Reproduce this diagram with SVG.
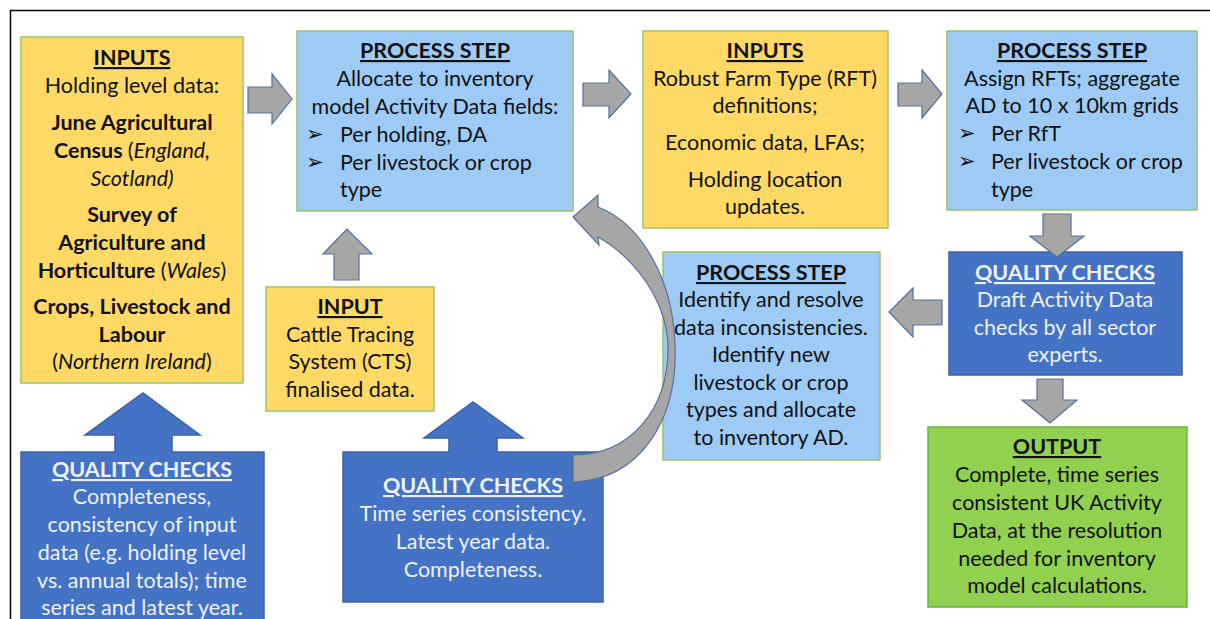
<svg xmlns="http://www.w3.org/2000/svg" width="1210" height="619" viewBox="0 0 1210 619">
<style>
text{font-family:Lato,"Open Sans","Liberation Sans",sans-serif;font-size:21.5px;fill:#111}
.c{text-anchor:middle}
.h{font-weight:bold;text-decoration:underline}
.b{font-weight:bold}
.i{font-style:italic}
.w{fill:#eef2fa}
.bul{font-family:"DejaVu Sans",sans-serif;font-size:21px}
.yel{fill:#ffd966;stroke:#9cc36a;stroke-width:1.5}
.lb{fill:#9dcbf6;stroke:#9cc36a;stroke-width:1.5}
.db{fill:#4472c4;stroke:#3a62a8;stroke-width:1.5}
.gr{fill:#92d050;stroke:#6fae3e;stroke-width:1.5}
.ar{fill:#a6a6a6;stroke:#56709a;stroke-width:1.2;stroke-linejoin:miter}
</style>
<rect width="1210" height="619" fill="#fff"/>
<path d="M10.5,619 L10.5,10.5 L1210,10.5" fill="none" stroke="#000" stroke-width="1.5"/>

<g id="inputs1">
<rect class="yel" x="21" y="37" width="222" height="346"/>
<text class="c" x="132"><tspan class="h" x="132" y="65">INPUTS</tspan><tspan x="132" y="93">Holding level data:</tspan><tspan class="b" x="132" y="130">June Agricultural</tspan><tspan x="132" y="158"><tspan class="b">Census </tspan>(<tspan class="i">England,</tspan></tspan><tspan class="i" x="132" y="186">Scotland)</tspan><tspan class="b" x="132" y="222">Survey of</tspan><tspan class="b" x="132" y="250">Agriculture and</tspan><tspan x="132" y="278"><tspan class="b">Horticulture</tspan> (<tspan class="i">Wales</tspan>)</tspan><tspan class="b" x="132" y="314">Crops, Livestock and</tspan><tspan class="b" x="132" y="342">Labour</tspan><tspan x="132" y="369">(<tspan class="i">Northern Ireland</tspan>)</tspan></text>
</g>

<g id="process1">
<rect class="lb" x="297" y="31" width="276" height="180"/>
<text class="c"><tspan class="h" x="435" y="58">PROCESS STEP</tspan><tspan x="435" y="86">Allocate to inventory</tspan><tspan x="435" y="114">model Activity Data fields:</tspan></text>
<text class="bul" x="306" y="141">➢</text><text x="340" y="142">Per holding, DA</text>
<text class="bul" x="306" y="169">➢</text><text x="340" y="170">Per livestock or crop</text>
<text x="340" y="197">type</text>
</g>

<g id="inputs2">
<rect class="yel" x="643" y="31" width="245" height="197"/>
<text class="c"><tspan class="h" x="765" y="58">INPUTS</tspan><tspan x="765" y="86">Robust Farm Type (RFT)</tspan><tspan x="765" y="113">definitions;</tspan><tspan x="765" y="150">Economic data, LFAs;</tspan><tspan x="765" y="187">Holding location</tspan><tspan x="765" y="214">updates.</tspan></text>
</g>

<g id="process2">
<rect class="lb" x="947" y="31" width="250" height="179"/>
<text class="c"><tspan class="h" x="1072" y="58">PROCESS STEP</tspan><tspan x="1072" y="86">Assign RFTs; aggregate</tspan><tspan x="1072" y="113">AD to 10 x 10km grids</tspan></text>
<text class="bul" x="958" y="140">➢</text><text x="991" y="141">Per RfT</text>
<text class="bul" x="958" y="168">➢</text><text x="991" y="169">Per livestock or crop</text>
<text x="991" y="197">type</text>
</g>

<g id="qc-sector">
<rect class="db" x="949" y="252" width="233" height="123"/>
<text class="c w"><tspan class="h w" x="1065" y="280">QUALITY CHECKS</tspan><tspan x="1065" y="307">Draft Activity Data</tspan><tspan x="1065" y="335">checks by all sector</tspan><tspan x="1065" y="362">experts.</tspan></text>
</g>

<g id="process3">
<rect class="lb" x="663" y="252" width="217" height="208"/>
<text class="c"><tspan class="h" x="771" y="280">PROCESS STEP</tspan><tspan x="771" y="307">Identify and resolve</tspan><tspan x="771" y="335">data inconsistencies.</tspan><tspan x="771" y="362">Identify new</tspan><tspan x="771" y="390">livestock or crop</tspan><tspan x="771" y="417">types and allocate</tspan><tspan x="771" y="445">to inventory AD.</tspan></text>
</g>

<g id="input-cts">
<rect class="yel" x="266" y="287" width="168" height="124"/>
<text class="c"><tspan class="h" x="350" y="314">INPUT</tspan><tspan x="350" y="342">Cattle Tracing</tspan><tspan x="350" y="369">System (CTS)</tspan><tspan x="350" y="397">finalised data.</tspan></text>
</g>

<g id="qc-inputs">
<path class="db" d="M21,452 L115,452 L115,435 L85,435 L143,393 L200,435 L172,435 L172,452 L264,452 L264,630 L21,630 Z"/>
<text class="c w"><tspan class="h w" x="142" y="477">QUALITY CHECKS</tspan><tspan x="142" y="504">Completeness,</tspan><tspan x="142" y="532">consistency of input</tspan><tspan x="142" y="560">data (e.g. holding level</tspan><tspan x="142" y="588">vs. annual totals); time</tspan><tspan x="142" y="615">series and latest year.</tspan></text>
</g>

<g id="qc-timeseries">
<path class="db" d="M343,452 L449,452 L449,438 L424,438 L473,402 L523,438 L497,438 L497,452 L603,452 L603,602 L343,602 Z"/>
<text class="c w"><tspan class="h w" x="473" y="493">QUALITY CHECKS</tspan><tspan x="473" y="521">Time series consistency.</tspan><tspan x="473" y="549">Latest year data.</tspan><tspan x="473" y="577">Completeness.</tspan></text>
</g>

<g id="output">
<rect class="gr" x="928" y="427" width="259" height="180"/>
<text class="c"><tspan class="h" x="1057" y="454">OUTPUT</tspan><tspan x="1057" y="482">Complete, time series</tspan><tspan x="1057" y="510">consistent UK Activity</tspan><tspan x="1057" y="538">Data, at the resolution</tspan><tspan x="1057" y="566">needed for inventory</tspan><tspan x="1057" y="593">model calculations.</tspan></text>
</g>

<g id="connectors">
<path class="ar" d="M248,87 L272,87 L272,74 L292,99 L272,124 L272,113 L248,113 Z"/>
<path class="ar" d="M583,83 L609,83 L609,70 L631,94 L609,118 L609,106 L583,106 Z"/>
<path class="ar" d="M898,83 L922,83 L922,70 L942,94 L922,118 L922,106 L898,106 Z"/>
<path class="ar" d="M1043,214 L1071,214 L1071,236 L1084,236 L1057,257 L1030,236 L1043,236 Z"/>
<path class="ar" d="M942,300 L913,300 L913,288 L889,312 L913,337 L913,325 L942,325 Z"/>
<path class="ar" d="M1037,379 L1063,379 L1063,400 L1077,400 L1050,423 L1022,400 L1037,400 Z"/>
<path class="ar" d="M334,280 L334,254 L323,254 L347,229 L372,254 L359,254 L359,280 Z"/>
<path class="ar" d="M573,455 C630,455 669,410 668,345 C666,300 635,258 598,237 L599,245 L573,217 L598,195 L598,207 C642,224 673,280 675,345 C678,420 640,480 573,482 Z"/>
</g>
</svg>
